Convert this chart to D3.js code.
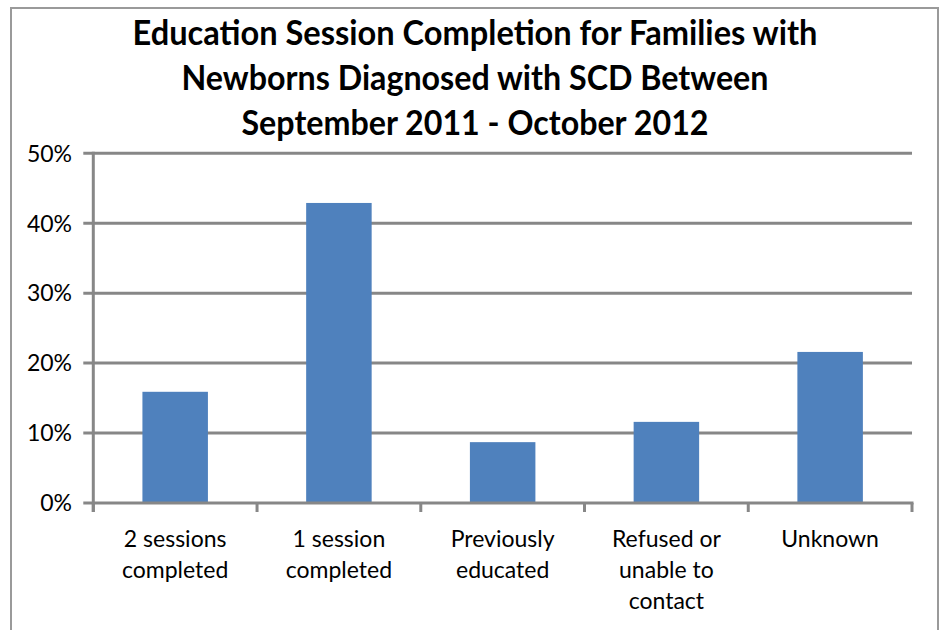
<!DOCTYPE html>
<html>
<head>
<meta charset="utf-8">
<script src="https://cdn.jsdelivr.net/npm/d3@7"></script>
<style>
  html, body { margin: 0; padding: 0; background: #fff; }
  svg { display: block; }
</style>
</head>
<body>
<svg id="chart" width="939" height="630"></svg>
<script>
// Share of families by education session outcome
const titleLines = [
  "Education Session Completion for Families with",
  "Newborns Diagnosed with SCD Between",
  "September 2011 - October 2012"
];
const categories = [
  "2 sessions\ncompleted",
  "1 session\ncompleted",
  "Previously\neducated",
  "Refused or\nunable to\ncontact",
  "Unknown"
];
const values = [15.9, 42.9, 8.7, 11.6, 21.6];
const yTicks = [0, 10, 20, 30, 40, 50];

const svg = d3.select("#chart");
const font = "Lato, 'Open Sans', 'Liberation Sans', sans-serif";

// chart frame
svg.append("rect")
  .attr("x", 11).attr("y", 8)
  .attr("width", 927).attr("height", 640)
  .attr("fill", "#fff")
  .attr("stroke", "#9a9a9a")
  .attr("stroke-width", 2);

// title, condensed to fixed line widths
const titleWidths = [685, 587, 467];
svg.append("g").selectAll("text")
  .data(titleLines)
  .join("text")
  .attr("x", 475)
  .attr("y", (d, i) => 45 + i * 45)
  .attr("text-anchor", "middle")
  .attr("font-family", font)
  .attr("font-weight", "bold")
  .attr("font-size", 34)
  .attr("fill", "#000")
  .attr("textLength", (d, i) => titleWidths[i])
  .attr("lengthAdjust", "spacingAndGlyphs")
  .text(d => d);

// plot area
const plotLeft = 93.3, plotRight = 912, plotTop = 153.3, plotBottom = 503;
const x = d3.scaleBand()
  .domain(categories)
  .range([plotLeft, plotRight])
  .paddingInner(0.6)
  .paddingOuter(0.3);
const y = d3.scaleLinear().domain([0, 50]).range([plotBottom, plotTop]);

const gridColor = "#878787";

// horizontal gridlines with left tick stubs
svg.append("g").selectAll("line")
  .data(yTicks.filter(t => t > 0))
  .join("line")
  .attr("x1", plotLeft - 10).attr("x2", plotRight)
  .attr("y1", d => y(d)).attr("y2", d => y(d))
  .attr("stroke", gridColor)
  .attr("stroke-width", 3);

// bars
svg.append("g").selectAll("rect")
  .data(values)
  .join("rect")
  .attr("x", (d, i) => x(categories[i]))
  .attr("y", d => y(d))
  .attr("width", x.bandwidth())
  .attr("height", d => y(0) - y(d))
  .attr("fill", "#4f81bd");

// y axis line
svg.append("line")
  .attr("x1", plotLeft).attr("x2", plotLeft)
  .attr("y1", plotTop - 1.5).attr("y2", plotBottom + 9)
  .attr("stroke", gridColor).attr("stroke-width", 3);

// x axis line with category boundary ticks
svg.append("line")
  .attr("x1", plotLeft - 10).attr("x2", plotRight + 1.5)
  .attr("y1", plotBottom).attr("y2", plotBottom)
  .attr("stroke", gridColor).attr("stroke-width", 3);
const step = x.step();
svg.append("g").selectAll("line")
  .data(d3.range(categories.length + 1))
  .join("line")
  .attr("x1", i => plotLeft + i * step).attr("x2", i => plotLeft + i * step)
  .attr("y1", plotBottom).attr("y2", plotBottom + 9)
  .attr("stroke", gridColor).attr("stroke-width", 3);

// y tick labels
svg.append("g").selectAll("text")
  .data(yTicks)
  .join("text")
  .attr("x", 72)
  .attr("y", d => y(d))
  .attr("dy", "0.36em")
  .attr("text-anchor", "end")
  .attr("font-family", font)
  .attr("font-size", 23)
  .attr("fill", "#000")
  .text(d => d + "%");

// category labels
const catG = svg.append("g").selectAll("text")
  .data(categories)
  .join("text")
  .attr("text-anchor", "middle")
  .attr("font-family", font)
  .attr("font-size", 23)
  .attr("fill", "#000");
catG.each(function(d) {
  const cx = x(d) + x.bandwidth() / 2;
  d3.select(this).selectAll("tspan")
    .data(d.split("\n"))
    .join("tspan")
    .attr("x", cx)
    .attr("y", (l, i) => 547 + i * 31)
    .text(l => l);
});
</script>
</body>
</html>
